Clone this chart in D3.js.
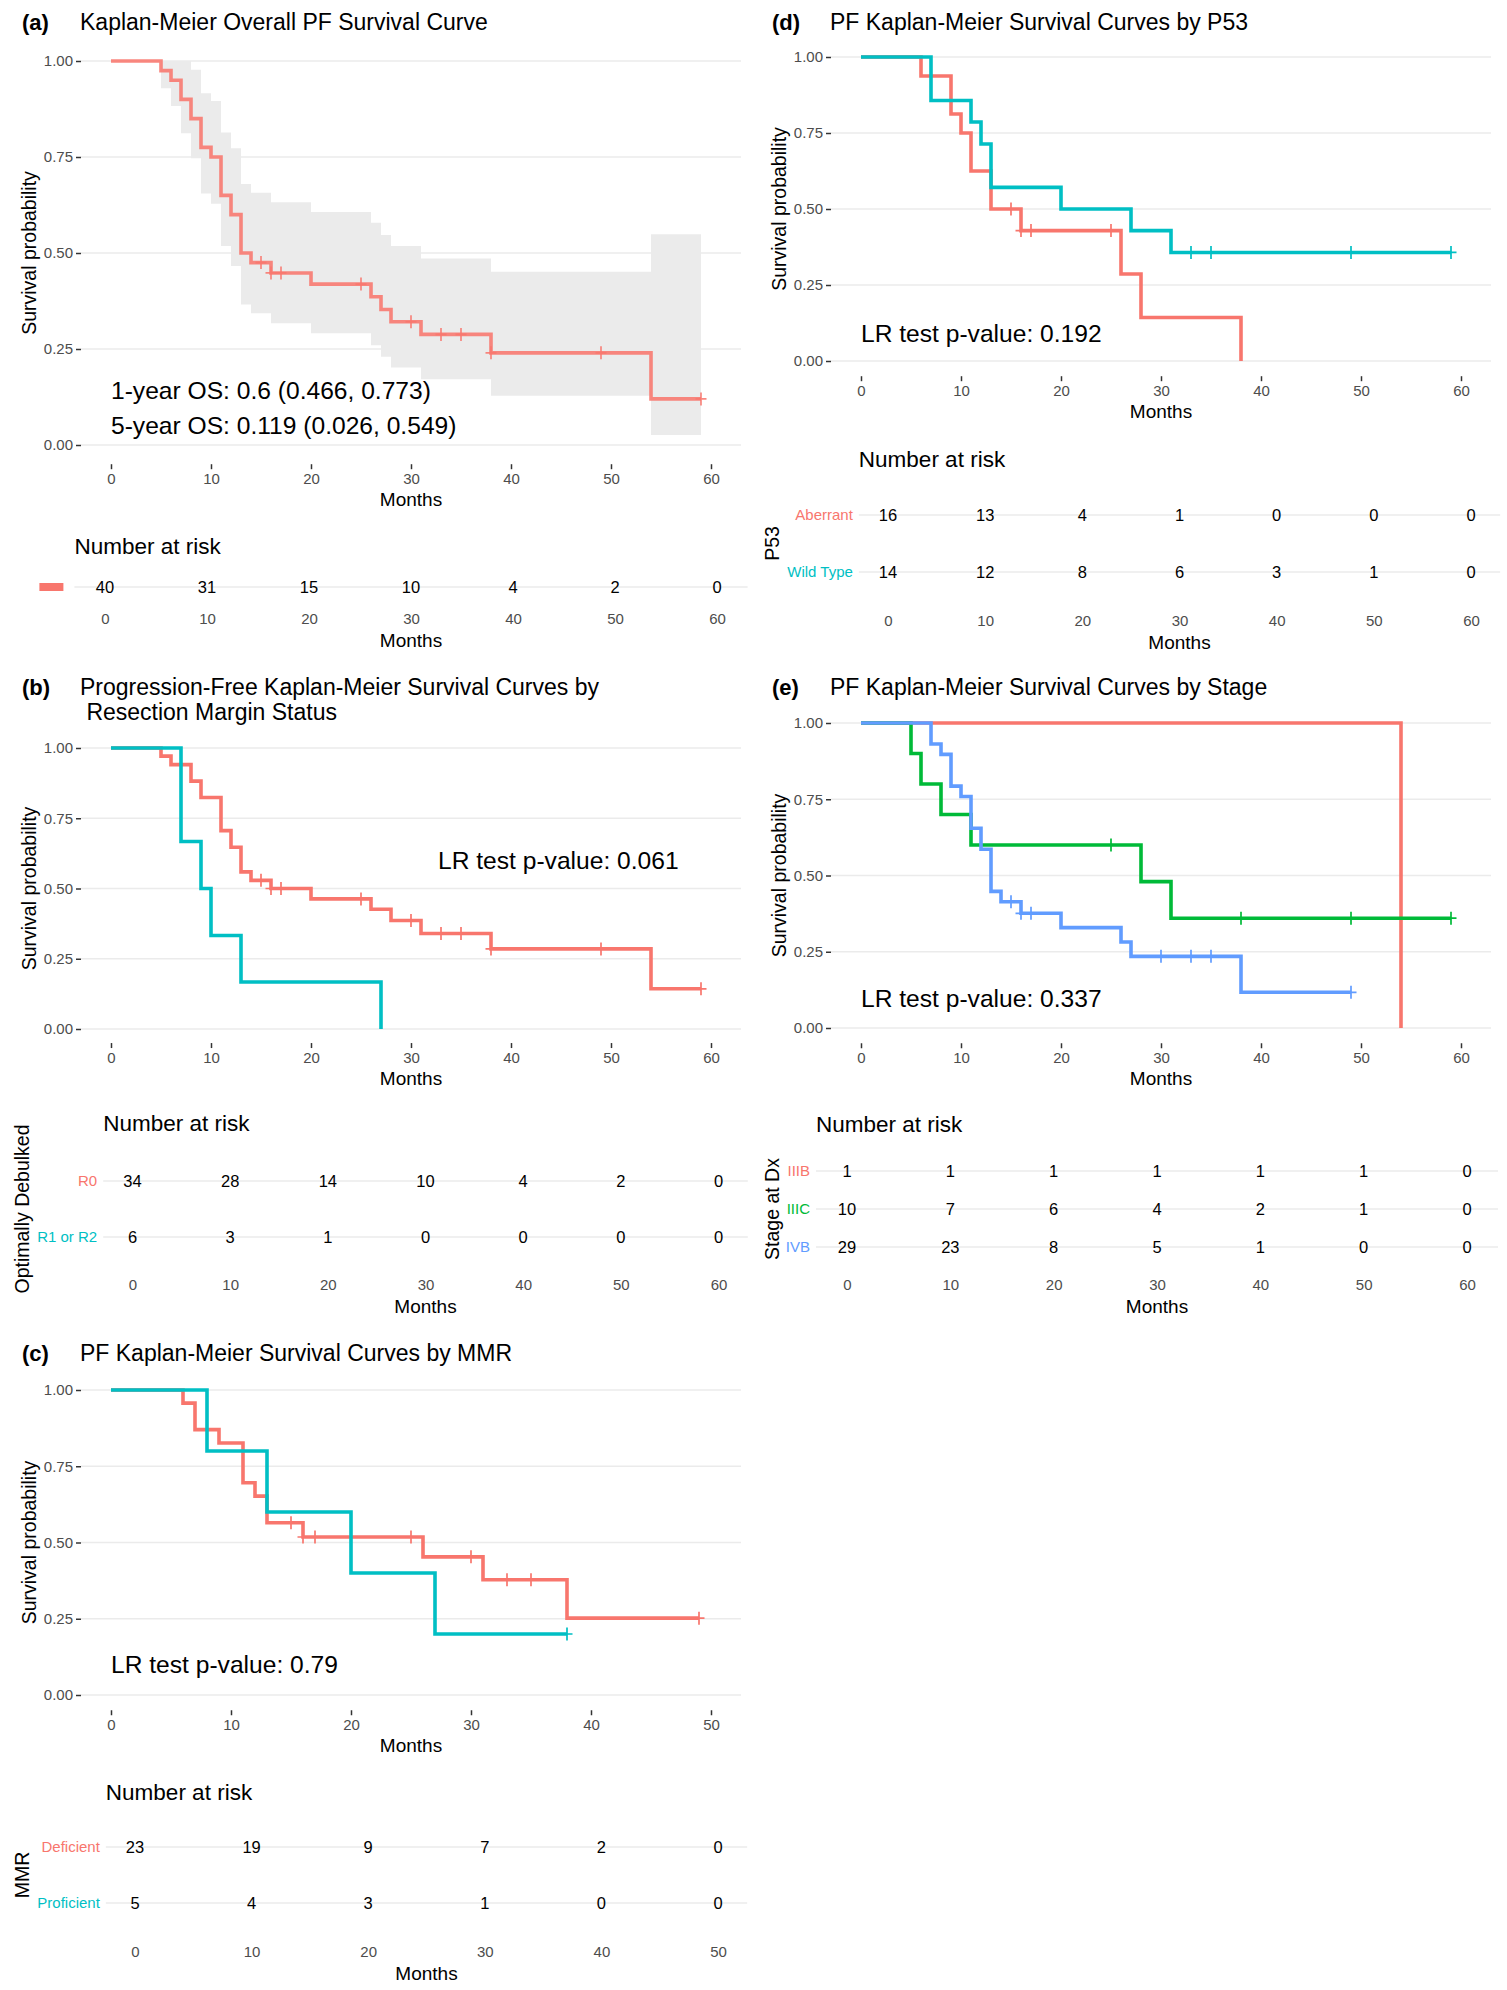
<!DOCTYPE html>
<html>
<head>
<meta charset="utf-8">
<script src="https://cdn.jsdelivr.net/npm/d3@7"></script>
<style>
  body { margin: 0; background: #fff; }
  svg { display: block; font-family: "Liberation Sans", Arial, sans-serif; }
</style>
</head>
<body>
<svg id="chart" width="1507" height="1990"></svg>
<script>
// ---- data ----
const monthTicks60 = [0, 10, 20, 30, 40, 50, 60];
const monthTicks50 = [0, 10, 20, 30, 40, 50];
const survTicks = [0, 0.25, 0.5, 0.75, 1];

// (a) overall
const timesA = [0, 5, 6, 7, 8, 9, 10, 11, 12, 13, 14, 16, 20, 26, 27, 28, 31, 38, 54];
const survA = [1, 0.975, 0.95, 0.9, 0.85, 0.775, 0.75, 0.65, 0.6, 0.5, 0.475, 0.448, 0.419, 0.386, 0.353, 0.321, 0.288, 0.24, 0.12];
const upperA = [1, 1, 1, 1, 0.977, 0.916, 0.896, 0.814, 0.773, 0.68, 0.657, 0.632, 0.607, 0.579, 0.547, 0.518, 0.486, 0.451, 0.549];
const lowerA = [1, 0.929, 0.883, 0.812, 0.747, 0.655, 0.628, 0.518, 0.466, 0.366, 0.343, 0.317, 0.291, 0.26, 0.23, 0.202, 0.171, 0.128, 0.026];
const censorA = [15, 16, 17, 25, 30, 33, 35, 38, 49, 59];
const endA = 59;
const riskA = [40, 31, 15, 10, 4, 2, 0];

// (b) resection margin
const timesR0 = [0, 5, 6, 8, 9, 11, 12, 13, 14, 16, 20, 26, 28, 31, 38, 54];
const survR0 = [1, 0.971, 0.941, 0.882, 0.824, 0.706, 0.647, 0.559, 0.529, 0.5, 0.463, 0.426, 0.386, 0.34, 0.285, 0.143];
const censorR0 = [15, 16, 17, 25, 30, 33, 35, 38, 49, 59];
const endR0 = 59;
const timesR12 = [0, 7, 9, 10, 13, 27];
const survR12 = [1, 0.667, 0.5, 0.333, 0.167, 0];
const censorR12 = [];
const endR12 = 27;
const riskR0 = [34, 28, 14, 10, 4, 2, 0];
const riskR12 = [6, 3, 1, 0, 0, 0, 0];

// (c) MMR
const timesDef = [0, 6, 7, 9, 11, 12, 13, 16, 26, 31, 38];
const survDef = [1, 0.957, 0.87, 0.826, 0.696, 0.652, 0.565, 0.518, 0.453, 0.378, 0.252];
const censorDef = [15, 16, 17, 25, 30, 33, 35, 49];
const endDef = 49;
const timesPro = [0, 8, 13, 20, 27];
const survPro = [1, 0.8, 0.6, 0.4, 0.2];
const censorPro = [38];
const endPro = 38;
const riskDef = [23, 19, 9, 7, 2, 0];
const riskPro = [5, 4, 3, 1, 0, 0];

// (d) P53
const timesAb = [0, 6, 9, 10, 11, 13, 16, 26, 28, 38];
const survAb = [1, 0.9375, 0.8125, 0.75, 0.625, 0.5, 0.429, 0.286, 0.143, 0];
const censorAb = [15, 16, 17, 25];
const endAb = 38;
const timesWt = [0, 7, 11, 12, 13, 20, 27, 31];
const survWt = [1, 0.857, 0.786, 0.714, 0.571, 0.5, 0.429, 0.357];
const censorWt = [33, 35, 49, 59];
const endWt = 59;
const riskAb = [16, 13, 4, 1, 0, 0, 0];
const riskWt = [14, 12, 8, 6, 3, 1, 0];

// (e) stage
const timesIIIB = [0, 54];
const survIIIB = [1, 0];
const censorIIIB = [];
const endIIIB = 54;
const timesIIIC = [0, 5, 6, 8, 11, 28, 31];
const survIIIC = [1, 0.9, 0.8, 0.7, 0.6, 0.48, 0.36];
const censorIIIC = [25, 38, 49, 59];
const endIIIC = 59;
const timesIVB = [0, 7, 8, 9, 10, 11, 12, 13, 14, 16, 20, 26, 27, 38];
const survIVB = [1, 0.931, 0.897, 0.793, 0.759, 0.655, 0.586, 0.448, 0.414, 0.376, 0.329, 0.282, 0.235, 0.117];
const censorIVB = [15, 16, 17, 30, 33, 35, 49];
const endIVB = 49;
const riskIIIB = [1, 1, 1, 1, 1, 1, 0];
const riskIIIC = [10, 7, 6, 4, 2, 1, 0];
const riskIVB = [29, 23, 8, 5, 1, 0, 0];

const RED = '#F8766D', TEAL = '#00BFC4', GREEN = '#00BA38', BLUE = '#619CFF';

const svg = d3.select('#chart');

// step-function lookup, value right after time t
function survAt(times, surv, t) {
  let s = surv[0];
  times.forEach((tt, i) => { if (tt <= t) s = surv[i]; });
  return s;
}

function drawPanel(p) {
  const g = svg.append('g');
  const xMax = p.ticks[p.ticks.length - 1];
  const x = d3.scaleLinear().domain([0, xMax]).range(p.xRange);
  const y = d3.scaleLinear().domain([0, 1]).range(p.yRange);
  const left = x(-0.05 * xMax), right = x(1.05 * xMax);
  const bottom = y(-0.05), top = y(1.05);

  // tag + title
  g.append('text').attr('x', p.tagX).attr('y', p.titleY[0]).attr('dy', '.35em')
      .attr('font-size', 22).attr('font-weight', 'bold').text(p.tag);
  p.title.forEach((t, i) => {
    g.append('text').attr('x', p.tagX + 58).attr('y', p.titleY[i]).attr('dy', '.35em')
        .attr('font-size', 23).style('white-space', 'pre').text(t);
  });

  // grid
  g.append('g').selectAll('line').data(survTicks).join('line')
      .attr('x1', left).attr('x2', right)
      .attr('y1', d => y(d)).attr('y2', d => y(d))
      .attr('stroke', '#ebebeb').attr('stroke-width', 1.6);

  // axes
  const yAxisG = g.append('g').attr('transform', `translate(${left},0)`)
      .call(d3.axisLeft(y).tickValues(survTicks).tickSize(5).tickPadding(3).tickFormat(d3.format('.2f')));
  const xAxisG = g.append('g').attr('transform', `translate(0,${bottom})`)
      .call(d3.axisBottom(x).tickValues(p.ticks).tickSize(5).tickPadding(4));
  [yAxisG, xAxisG].forEach(a => {
    a.select('.domain').remove();
    a.selectAll('.tick line').attr('stroke', '#333').attr('stroke-width', 1.5);
    a.selectAll('.tick text').attr('fill', '#4d4d4d').attr('font-size', 15)
        .attr('font-family', '"Liberation Sans", Arial, sans-serif');
  });

  g.append('text').attr('x', (p.xRange[0] + p.xRange[1]) / 2).attr('y', bottom + 35).attr('dy', '.35em')
      .attr('text-anchor', 'middle').attr('font-size', 19).text('Months');
  g.append('text').attr('transform', `translate(${p.ylabX},${(top + bottom) / 2}) rotate(-90)`)
      .attr('dy', '.35em').attr('text-anchor', 'middle').attr('font-size', 19.5).text('Survival probability');

  // confidence band
  if (p.band) {
    const bd = p.band.times.map((t, i) => ({t, lo: p.band.lower[i], up: p.band.upper[i]}));
    bd.push({t: p.band.end, lo: p.band.lower[p.band.lower.length - 1], up: p.band.upper[p.band.upper.length - 1]});
    g.append('path').datum(bd)
        .attr('d', d3.area().curve(d3.curveStepAfter).x(d => x(d.t)).y0(d => y(d.lo)).y1(d => y(d.up)))
        .attr('fill', '#ebebeb');
  }

  // curves
  const line = d3.line().curve(d3.curveStepAfter).x(d => x(d.t)).y(d => y(d.s));
  p.curves.forEach(c => {
    const pts = c.times.map((t, i) => ({t, s: c.surv[i]}));
    pts.push({t: c.end, s: c.surv[c.surv.length - 1]});
    g.append('path').datum(pts).attr('d', line)
        .attr('fill', 'none').attr('stroke', c.color).attr('stroke-width', 3.6)
        .attr('stroke-opacity', c.opacity || 1);
    g.append('g').selectAll('path').data(c.censor).join('path')
        .attr('d', t => {
          const cx = x(t), cy = y(survAt(c.times, c.surv, t));
          return `M${cx - 5.5},${cy}H${cx + 5.5}M${cx},${cy - 6.5}V${cy + 6.5}`;
        })
        .attr('stroke', c.color).attr('stroke-width', 1.7).attr('stroke-opacity', c.opacity || 1);
  });

  // annotations
  p.notes.forEach(n => {
    g.append('text').attr('x', x(n.t)).attr('y', y(n.s)).attr('dy', '.35em')
        .attr('font-size', 24.6).text(n.text);
  });

  // risk table
  const r = p.risk;
  const rx = d3.scaleLinear().domain([0, xMax]).range(r.xRange);
  const rLeft = rx(-0.05 * xMax), rRight = rx(1.05 * xMax);
  g.append('text').attr('x', rLeft).attr('y', r.titleY).attr('dy', '.35em')
      .attr('font-size', 22.5).text('Number at risk');
  r.rows.forEach((row, i) => {
    const ry = r.rowY[i];
    g.append('line').attr('x1', rLeft).attr('x2', rRight).attr('y1', ry).attr('y2', ry)
        .attr('stroke', '#ebebeb').attr('stroke-width', 1.6);
    if (row.label) {
      g.append('text').attr('x', rLeft - 6).attr('y', ry).attr('dy', '.35em')
          .attr('text-anchor', 'end').attr('font-size', 15).attr('fill', row.color).text(row.label);
    } else {
      g.append('rect').attr('x', rLeft - 35).attr('y', ry - 4).attr('width', 24).attr('height', 8)
          .attr('fill', row.color);
    }
    g.append('g').selectAll('text').data(row.values).join('text')
        .attr('x', (d, j) => rx(p.ticks[j])).attr('y', ry).attr('dy', '.35em')
        .attr('text-anchor', 'middle').attr('font-size', 16.5).text(d => d);
  });
  const rAxisG = g.append('g').attr('transform', `translate(0,${r.ticksY - 5.3})`)
      .call(d3.axisBottom(rx).tickValues(p.ticks).tickSize(0).tickPadding(0));
  rAxisG.select('.domain').remove();
  rAxisG.selectAll('.tick text').attr('fill', '#4d4d4d').attr('font-size', 15)
      .attr('font-family', '"Liberation Sans", Arial, sans-serif');
  g.append('text').attr('x', (r.xRange[0] + r.xRange[1]) / 2).attr('y', r.ticksY + 21).attr('dy', '.35em')
      .attr('text-anchor', 'middle').attr('font-size', 19).text('Months');
  if (r.axisTitle) {
    const mid = (r.rowY[0] + r.rowY[r.rowY.length - 1]) / 2;
    g.append('text').attr('transform', `translate(${p.tagX},${mid}) rotate(-90)`)
        .attr('dy', '.35em').attr('text-anchor', 'middle').attr('font-size', 19.5).text(r.axisTitle);
  }
}

drawPanel({
  tag: '(a)', tagX: 22, titleY: [22], title: ['Kaplan-Meier Overall PF Survival Curve'],
  ticks: monthTicks60, xRange: [111, 711], yRange: [445, 61], ylabX: 29,
  band: {times: timesA, upper: upperA, lower: lowerA, end: endA},
  curves: [{times: timesA, surv: survA, censor: censorA, end: endA, color: RED, opacity: 0.88}],
  notes: [{t: 0, s: 0.143, text: '1-year OS: 0.6 (0.466, 0.773)'},
          {t: 0, s: 0.052, text: '5-year OS: 0.119 (0.026, 0.549)'}],
  risk: {xRange: [105, 717], titleY: 546, rowY: [587], ticksY: 619,
         rows: [{label: '', color: RED, values: riskA}]}
});

drawPanel({
  tag: '(b)', tagX: 22, titleY: [687, 712],
  title: ['Progression-Free Kaplan-Meier Survival Curves by', ' Resection Margin Status'],
  ticks: monthTicks60, xRange: [111, 711], yRange: [1029, 748], ylabX: 29,
  curves: [{times: timesR0, surv: survR0, censor: censorR0, end: endR0, color: RED},
           {times: timesR12, surv: survR12, censor: censorR12, end: endR12, color: TEAL}],
  notes: [{t: 32.7, s: 0.6, text: 'LR test p-value: 0.061'}],
  risk: {xRange: [132.5, 718.5], titleY: 1123, rowY: [1181, 1237], ticksY: 1285, axisTitle: 'Optimally Debulked',
         rows: [{label: 'R0', color: RED, values: riskR0}, {label: 'R1 or R2', color: TEAL, values: riskR12}]}
});

drawPanel({
  tag: '(c)', tagX: 22, titleY: [1353], title: ['PF Kaplan-Meier Survival Curves by MMR'],
  ticks: monthTicks50, xRange: [111, 711], yRange: [1695, 1390], ylabX: 29,
  curves: [{times: timesDef, surv: survDef, censor: censorDef, end: endDef, color: RED},
           {times: timesPro, surv: survPro, censor: censorPro, end: endPro, color: TEAL}],
  notes: [{t: 0, s: 0.1, text: 'LR test p-value: 0.79'}],
  risk: {xRange: [135, 718], titleY: 1792, rowY: [1847, 1903], ticksY: 1952, axisTitle: 'MMR',
         rows: [{label: 'Deficient', color: RED, values: riskDef}, {label: 'Proficient', color: TEAL, values: riskPro}]}
});

drawPanel({
  tag: '(d)', tagX: 772, titleY: [22], title: ['PF Kaplan-Meier Survival Curves by P53'],
  ticks: monthTicks60, xRange: [861, 1461], yRange: [361, 57], ylabX: 779,
  curves: [{times: timesAb, surv: survAb, censor: censorAb, end: endAb, color: RED},
           {times: timesWt, surv: survWt, censor: censorWt, end: endWt, color: TEAL}],
  notes: [{t: 0, s: 0.092, text: 'LR test p-value: 0.192'}],
  risk: {xRange: [888, 1471], titleY: 459, rowY: [515, 572], ticksY: 621, axisTitle: 'P53',
         rows: [{label: 'Aberrant', color: RED, values: riskAb}, {label: 'Wild Type', color: TEAL, values: riskWt}]}
});

drawPanel({
  tag: '(e)', tagX: 772, titleY: [687], title: ['PF Kaplan-Meier Survival Curves by Stage'],
  ticks: monthTicks60, xRange: [861, 1461], yRange: [1028, 723], ylabX: 779,
  curves: [{times: timesIIIB, surv: survIIIB, censor: censorIIIB, end: endIIIB, color: RED},
           {times: timesIIIC, surv: survIIIC, censor: censorIIIC, end: endIIIC, color: GREEN},
           {times: timesIVB, surv: survIVB, censor: censorIVB, end: endIVB, color: BLUE}],
  notes: [{t: 0, s: 0.098, text: 'LR test p-value: 0.337'}],
  risk: {xRange: [847, 1467], titleY: 1124, rowY: [1171, 1209, 1247], ticksY: 1285, axisTitle: 'Stage at Dx',
         rows: [{label: 'IIIB', color: RED, values: riskIIIB}, {label: 'IIIC', color: GREEN, values: riskIIIC},
                {label: 'IVB', color: BLUE, values: riskIVB}]}
});
</script>
</body>
</html>
